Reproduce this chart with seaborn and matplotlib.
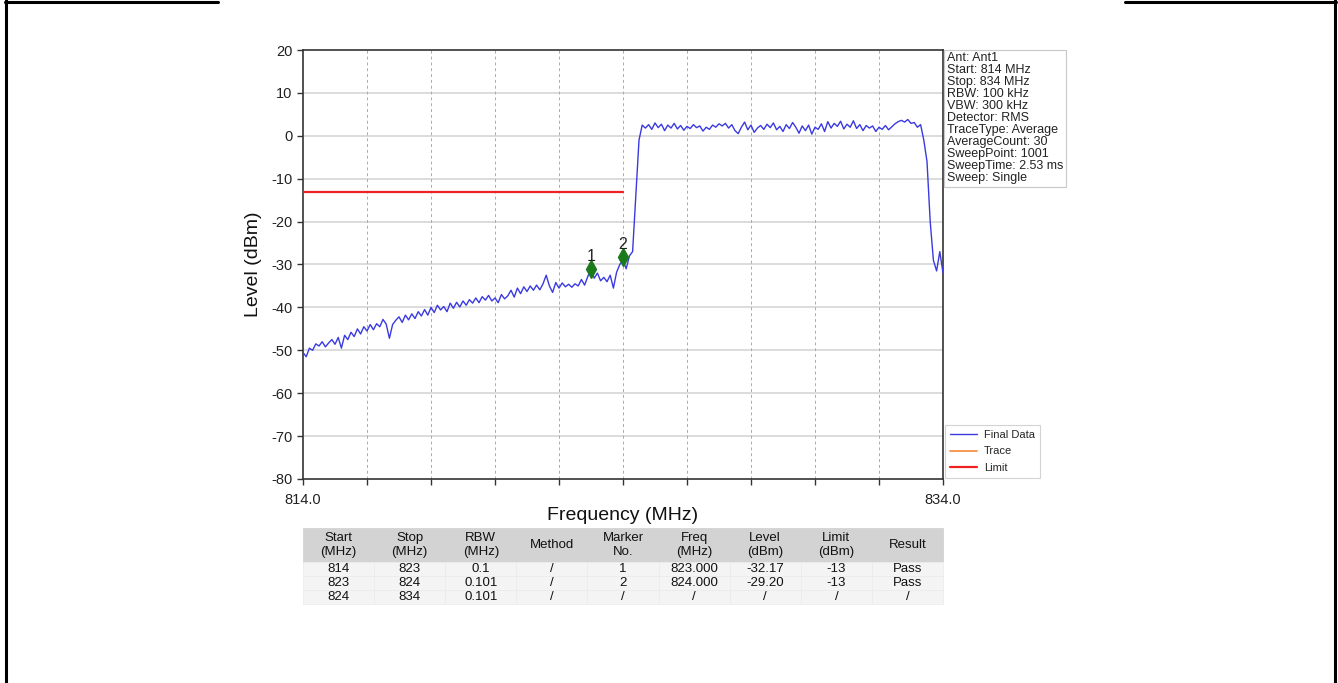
import numpy as np
import pandas as pd
import matplotlib
matplotlib.use("Agg")
import matplotlib.pyplot as plt
from matplotlib.lines import Line2D
from matplotlib.ticker import FixedLocator, FixedFormatter
import seaborn as sns

# ---------------- data ----------------
f_start, f_stop = 814.0, 834.0
level = [
    -50.5, -51.5, -49.5, -50.0, -48.5, -49.0, -48.0, -49.2, -48.3, -47.5,   # 814.0-814.9
    -48.6, -47.0, -49.5, -46.5, -47.5, -45.8, -46.8, -45.0, -46.2, -44.5,   # 815.0-815.9
    -45.5, -44.0, -45.2, -43.8, -44.5, -42.8, -43.9, -47.2, -44.0, -43.0,   # 816.0-816.9
    -42.2, -43.5, -41.8, -42.9, -41.5, -42.6, -41.0, -42.0, -40.5, -41.8,   # 817.0-817.9
    -40.0, -41.2, -39.5, -40.6, -39.8, -41.0, -39.0, -40.2, -38.8, -39.9,   # 818.0-818.9
    -38.5, -39.5, -38.2, -39.0, -37.8, -38.9, -37.5, -38.3, -37.2, -38.5,   # 819.0-819.9
    -37.8, -38.9, -37.0, -38.0, -37.3, -36.0, -37.6, -35.5, -36.8, -35.2,   # 820.0-820.9
    -36.3, -35.0, -36.0, -34.8, -35.9, -34.5, -32.5, -35.0, -36.5, -34.2,   # 821.0-821.9
    -35.5, -34.3, -35.2, -34.6, -35.3, -34.5, -35.0, -33.5, -34.8, -32.8,   # 822.0-822.9
    -31.0, -33.2, -32.0, -33.8, -33.0, -34.0, -32.5, -35.5, -31.8, -30.0,   # 823.0-823.9
    -29.0, -31.0, -28.0, -27.0, -14.0, -1.0, 2.5, 1.8, 2.6, 1.5,            # 824.0-824.9
    3.0, 1.9, 2.7, 1.2, 2.5, 1.8, 2.9, 1.6, 2.4, 1.3,                       # 825.0-825.9
    2.2, 1.7, 2.6, 1.9, 2.3, 1.1, 2.0, 1.5, 2.5, 2.0,                       # 826.0-826.9
    2.8, 2.3, 2.9, 1.8, 2.6, 1.2, 0.5, 2.0, 3.2, 1.4,                       # 827.0-827.9
    2.5, 0.8, 1.8, 2.4, 1.5, 2.7, 1.9, 3.0, 1.4, 2.2,                       # 828.0-828.9
    1.0, 2.6, 1.7, 3.1, 2.0, 0.6, 2.3, 1.2, 2.5, 0.4,                       # 829.0-829.9
    2.0, 1.5, 2.8, 1.0, 3.3, 1.8, 2.9, 2.2, 3.4, 1.6,                       # 830.0-830.9
    2.7, 2.0, 3.5, 1.7, 2.6, 1.2, 2.4, 1.8, 2.3, 1.0,                       # 831.0-831.9
    2.0, 1.5, 2.4, 1.4, 2.1, 2.8, 3.3, 3.6, 3.2, 3.8,                       # 832.0-832.9
    2.9, 3.1, 2.0, 2.6, -1.0, -6.0, -20.0, -29.0, -31.5, -27.0,             # 833.0-833.9
    -32.0,                                                                  # 834.0
]
limit_start, limit_stop, limit_level = 814.0, 824.0, -13.0
marker_freq = [823.0, 824.0]
marker_level = [-31.1, -28.2]
marker_names = ["1", "2"]

info_lines = ["Ant: Ant1", "Start: 814 MHz", "Stop: 834 MHz", "RBW: 100 kHz",
              "VBW: 300 kHz", "Detector: RMS", "TraceType: Average",
              "AverageCount: 30", "SweepPoint: 1001", "SweepTime: 2.53 ms",
              "Sweep: Single"]

table_header = ["Start\n(MHz)", "Stop\n(MHz)", "RBW\n(MHz)", "Method", "Marker\nNo.",
                "Freq\n(MHz)", "Level\n(dBm)", "Limit\n(dBm)", "Result"]
table_rows = [
    ["814", "823", "0.1", "/", "1", "823.000", "-32.17", "-13", "Pass"],
    ["823", "824", "0.101", "/", "2", "824.000", "-29.20", "-13", "Pass"],
    ["824", "834", "0.101", "/", "/", "/", "/", "/", "/"],
]

y_ticks = [-80, -70, -60, -50, -40, -30, -20, -10, 0, 10, 20]
x_ticks = [814, 816, 818, 820, 822, 824, 826, 828, 830, 832, 834]
x_ticklabels = ["814.0", "", "", "", "", "", "", "", "", "", "834.0"]

# ---------------- style ----------------
sns.set_theme(style="white")
plt.rcParams['font.family'] = ['Liberation Sans', 'DejaVu Sans']
plt.rcParams['axes.unicode_minus'] = False

W, H = 1338, 683
fig = plt.figure(figsize=(W / 100, H / 100), dpi=100)
fig.patch.set_facecolor("white")

def fx(px):
    return px / W

def fy(py):
    return 1 - py / H

ax_l, ax_r, ax_t, ax_b = 303, 943, 50, 479
ax = fig.add_axes([fx(ax_l), fy(ax_b), fx(ax_r - ax_l), (ax_b - ax_t) / H])
ax.set_facecolor("white")

freq = np.linspace(f_start, f_stop, len(level))
df = pd.DataFrame({"Frequency": freq, "Level": level})

sns.lineplot(data=df, x="Frequency", y="Level", ax=ax, color="#3a3ae0",
             linewidth=1.0, label="Final Data", zorder=3)
ax.plot([], [], color="#f5883a", linewidth=1.2, label="Trace")
ax.plot([limit_start, limit_stop], [limit_level, limit_level], color="#ee2222",
        linewidth=1.6, label="Limit", zorder=3)

ax.plot(marker_freq, marker_level, linestyle="none", marker="d", markersize=9,
        color="#1b7a1b", zorder=5)
for mf, ml, mn in zip(marker_freq, marker_level, marker_names):
    ax.text(mf, ml + 1.2, mn, ha="center", va="bottom", fontsize=11.5, color="#222222", zorder=6)

ax.set_xlim(f_start, f_stop)
ax.set_ylim(-80, 20)
ax.yaxis.set_major_locator(FixedLocator(y_ticks))
ax.xaxis.set_major_locator(FixedLocator(x_ticks))
ax.xaxis.set_major_formatter(FixedFormatter(x_ticklabels))

ax.grid(False)
for yt in y_ticks[1:-1]:
    ax.axhline(yt, color="#d9d9d9", linewidth=1.3, zorder=1)
for xt in x_ticks[1:-1]:
    ax.axvline(xt, color="#aaaaaa", linewidth=0.7, linestyle=(0, (3, 3)), zorder=1)

for side in ["left", "bottom", "right", "top"]:
    ax.spines[side].set_color("#333333")
    ax.spines[side].set_linewidth(1.2)
ax.tick_params(axis="both", direction="out", length=4, width=1, color="#333333",
               labelsize=10.5, labelcolor="#222222", left=True, bottom=True)
ax.tick_params(axis="x", pad=6)

ax.set_xlabel("Frequency (MHz)", fontsize=14, color="#111111")
ax.set_ylabel("Level (dBm)", fontsize=14, color="#111111")
ax.xaxis.set_label_coords(0.5, -0.066)
ax.yaxis.set_label_coords(-0.078, 0.5)
ax.yaxis.label.set_va("center")

# info box
ax.text(1.006, 0.995, "\n".join(info_lines), transform=ax.transAxes, ha="left", va="top",
        fontsize=9, color="#222222", linespacing=1.0,
        bbox=dict(boxstyle="square,pad=0.2", facecolor="white", edgecolor="#c8c8c8", linewidth=0.8))

# legend
leg = ax.legend(loc="lower left", bbox_to_anchor=(1.003, 0.002), borderaxespad=0,
                fontsize=8, frameon=True, fancybox=False, handlelength=2.4,
                handletextpad=0.6, labelspacing=0.55, borderpad=0.5)
leg.get_frame().set_edgecolor("#c8c8c8")
leg.get_frame().set_linewidth(0.8)

# table
tb_top, tb_bot = 528, 604
bbox_y0 = (ax_b - tb_bot) / (ax_b - ax_t)
bbox_h = (tb_bot - tb_top) / (ax_b - ax_t)
tbl = ax.table(cellText=table_rows, colLabels=table_header, cellLoc="center",
               bbox=[0, bbox_y0, 1, bbox_h])
tbl.auto_set_font_size(False)
hdr_h = 34 / (ax_b - ax_t)
row_h = 14 / (ax_b - ax_t)
for (r, c), cell in tbl.get_celld().items():
    cell.set_linewidth(0.6)
    cell.get_text().set_fontsize(9.5)
    cell.get_text().set_color("#111111")
    if r == 0:
        cell.set_facecolor("#d3d3d3")
        cell.set_edgecolor("#d3d3d3")
        cell.set_height(hdr_h)
    else:
        cell.set_facecolor("#f4f4f4")
        cell.set_edgecolor("#ececec")
        cell.set_height(row_h)

# document frame lines
lw = 2.2
fig.add_artist(Line2D([fx(6), fx(6)], [0, 1], transform=fig.transFigure, color="black", linewidth=lw))
fig.add_artist(Line2D([fx(1335), fx(1335)], [0, 1], transform=fig.transFigure, color="black", linewidth=lw))
fig.add_artist(Line2D([fx(5), fx(218)], [fy(1.5), fy(1.5)], transform=fig.transFigure, color="black", linewidth=lw))
fig.add_artist(Line2D([fx(1125), fx(1336)], [fy(1.5), fy(1.5)], transform=fig.transFigure, color="black", linewidth=lw))

fig.savefig("out.png", dpi=100, facecolor="white")
